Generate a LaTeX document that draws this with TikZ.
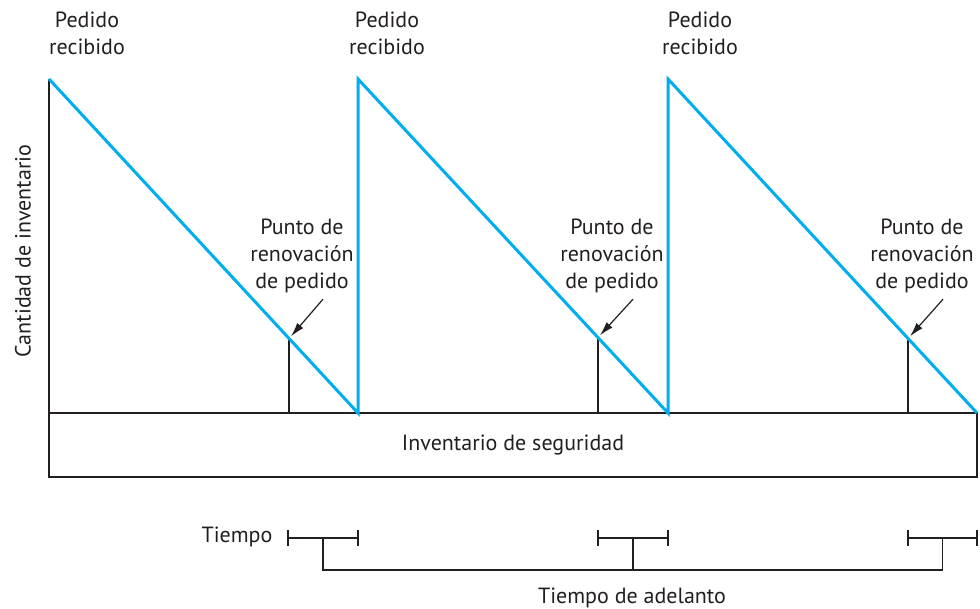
\documentclass[tikz,border=0pt]{standalone}
\usepackage{fontspec}
\setmainfont{PT Sans}
\usepackage{xcolor}
\usepackage{tikz}
\usetikzlibrary{arrows.meta,positioning,calc}

\definecolor{sawblue}{RGB}{0,174,239}
\definecolor{inkgray}{RGB}{35,31,32}

\begin{document}
\begin{tikzpicture}[
    x=1pt, y=-1pt,
    font=\fontsize{22}{27}\selectfont, text=inkgray,
    txt/.style={align=center, inner sep=0pt},
    saw/.style={line width=3pt, color=sawblue, line join=miter},
    frame/.style={line width=1.5pt, color=inkgray},
    thinline/.style={line width=1.3pt, color=inkgray},
    arrow/.style={-{Latex[length=14pt,width=8pt]}, line width=1.2pt, color=inkgray, shorten >=3pt}
]
    \useasboundingbox (0,0) rectangle (980,608);

    % safety stock box and axis
    \node[draw, frame, outer sep=0pt, inner sep=0pt, anchor=north west,
          minimum width=928pt, minimum height=64pt] (safety) at (49,413) {Inventario de seguridad};
    \node[rotate=90, inner sep=0pt] (yaxis) at (23,251) {Cantidad de inventario};

    \coordinate (top1) at (49,79);
    \coordinate (bot1) at (358,413);
    \coordinate (top2) at (358,79);
    \coordinate (bot2) at (668,413);
    \coordinate (top3) at (668,79);
    \coordinate (bot3) at (977,413);

    \draw[frame] (top1) -- (safety.south west);

    % reorder points
    \coordinate (rp1) at ($(top1)!0.777!(bot1)$);
    \coordinate (rp2) at ($(top2)!0.774!(bot2)$);
    \coordinate (rp3) at ($(top3)!0.777!(bot3)$);
    \draw[thinline] (rp1) -- (rp1 |- safety.north);
    \draw[thinline] (rp2) -- (rp2 |- safety.north);
    \draw[thinline] (rp3) -- (rp3 |- safety.north);

    \draw[saw] (top1) -- (bot1) -- (top2) -- (bot2) -- (top3) -- (bot3);

    \node[txt] (rec1) at (87,33) {Pedido\\recibido};
    \node[txt] (rec2) at (387,33) {Pedido\\recibido};
    \node[txt] (rec3) at (700,33) {Pedido\\recibido};

    \node[txt] (rop1) at (302,256) {Punto de\\renovación\\de pedido};
    \node[txt] (rop2) at (612,256) {Punto de\\renovación\\de pedido};
    \node[txt] (rop3) at (922,256) {Punto de\\renovación\\de pedido};

    \draw[arrow] ([xshift=21pt,yshift=-6pt]rop1.south) -- (rp1);
    \draw[arrow] ([xshift=21pt,yshift=-6pt]rop2.south) -- (rp2);
    \draw[arrow] ([xshift=21pt,yshift=-6pt]rop3.south) -- (rp3);

    % time brackets
    \node[inner sep=0pt] (tiempo) at (237,537) {Tiempo};
    \coordinate (b1l) at (288,538);
    \coordinate (b1r) at (358,538);
    \coordinate (b2l) at (598,538);
    \coordinate (b2r) at (668,538);
    \coordinate (b3l) at (908,538);
    \coordinate (b3r) at (977,538);

    \draw[thinline] (b1l) -- (b1r);
    \draw[thinline] (b2l) -- (b2r);
    \draw[thinline] (b3l) -- (b3r);
    \draw[thinline] ([yshift=8pt]b1l) -- ([yshift=-8pt]b1l);
    \draw[thinline] ([yshift=8pt]b1r) -- ([yshift=-8pt]b1r);
    \draw[thinline] ([yshift=8pt]b2l) -- ([yshift=-8pt]b2l);
    \draw[thinline] ([yshift=8pt]b2r) -- ([yshift=-8pt]b2r);
    \draw[thinline] ([yshift=8pt]b3l) -- ([yshift=-8pt]b3l);
    \draw[thinline] ([yshift=8pt]b3r) -- ([yshift=-8pt]b3r);

    \draw[thinline] ($(b1l)!0.5!(b1r)$) -- ++(0,32) -| ($(b3l)!0.5!(b3r)$);
    \draw[thinline] ($(b2l)!0.5!(b2r)$) -- ++(0,32);

    \node[inner sep=0pt] (lead) at (632,598) {Tiempo de adelanto};
\end{tikzpicture}
\end{document}
